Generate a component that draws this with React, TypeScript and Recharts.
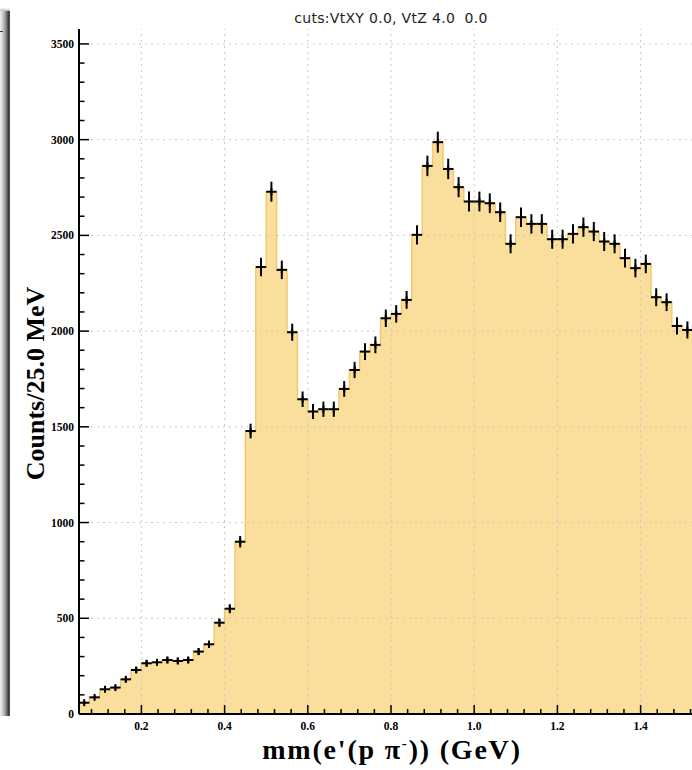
import { ComposedChart, Area, Scatter, ErrorBar, XAxis, YAxis, ReferenceLine } from "recharts";

// histogram binning, 25 MeV bins starting at 0.05 GeV
const BIN_START = 0.05;
const BIN_WIDTH = 0.025;

const counts = [
  59, 87, 129, 138, 181, 230, 265, 270, 282, 277, 282, 326, 364, 477, 550,
  900, 1478, 2335, 2728, 2320, 1994, 1644, 1580, 1592, 1592, 1698, 1797, 1893, 1928, 2067,
  2090, 2163, 2503, 2863, 2987, 2847, 2752, 2677, 2677, 2668, 2621, 2456, 2595, 2560, 2560,
  2480, 2480, 2508, 2543, 2520, 2468, 2456, 2381, 2329, 2351, 2177, 2151, 2027, 2006,
];

const errors = [
  7.7, 9.3, 11.4, 11.7, 13.5, 15.2, 16.3, 16.4, 16.8, 16.6, 16.8, 18.1, 19.1, 21.8, 23.5,
  30, 38.4, 48.3, 52.2, 48.2, 44.7, 40.5, 39.7, 39.9, 39.9, 41.2, 42.4, 43.5, 43.9, 45.5,
  45.7, 46.5, 50, 53.5, 54.7, 53.4, 52.5, 51.7, 51.7, 51.7, 51.2, 49.6, 50.9, 50.6, 50.6,
  49.8, 49.8, 50.1, 50.4, 50.2, 49.7, 49.6, 48.8, 48.3, 48.5, 46.7, 46.4, 45, 44.8,
];

const xMajor = [0.2, 0.4, 0.6, 0.8, 1.0, 1.2, 1.4];
const xMajorLabels = ["0.2", "0.4", "0.6", "0.8", "1.0", "1.2", "1.4"];
const yMajor = [0, 500, 1000, 1500, 2000, 2500, 3000, 3500];
const yMajorLabels = ["0", "500", "1000", "1500", "2000", "2500", "3000", "3500"];

const X_DOMAIN: [number, number] = [0.05, 1.55];
const Y_DOMAIN: [number, number] = [0, 3578];

// minor ticks: 5 divisions per major
const xTicks = Array.from({ length: 37 }, (_, i) => +(0.08 + 0.04 * i).toFixed(2));
const yTicks = Array.from({ length: 36 }, (_, i) => i * 100);

const points = counts.map((c, i) => ({
  x: +(BIN_START + BIN_WIDTH * (i + 0.5)).toFixed(4),
  count: c,
  err: errors[i],
  xerr: BIN_WIDTH / 2,
}));

const steps = [
  ...counts.map((c, i) => ({ x: +(BIN_START + BIN_WIDTH * i).toFixed(4), y: c })),
  { x: +(BIN_START + BIN_WIDTH * counts.length).toFixed(4), y: counts[counts.length - 1] },
];

const SERIF = "'Liberation Serif', 'Times New Roman', serif";
const GRID = { stroke: "#c8c8c8", strokeDasharray: "2 4", strokeWidth: 1 };

const near = (arr: number[], v: number) => arr.findIndex((m) => Math.abs(m - v) < 1e-6);

const XTick = (props: any) => {
  const { x, y, payload } = props;
  const idx = near(xMajor, payload.value);
  const major = idx >= 0;
  return (
    <g>
      <line x1={x} x2={x} y1={y} y2={y - (major ? 9 : 5)} stroke="#000" strokeWidth={1.5} />
      {major && (
        <text x={x} y={y + 16} textAnchor="middle" fontFamily={SERIF} fontWeight="bold" fontSize={11.5} fill="#000">
          {xMajorLabels[idx]}
        </text>
      )}
    </g>
  );
};

const TopTick = (props: any) => {
  const { x, y } = props;
  return <line x1={x} x2={x} y1={y} y2={y + 5} stroke="#000" strokeWidth={1.2} />;
};

const YTick = (props: any) => {
  const { x, y, payload } = props;
  const idx = near(yMajor, payload.value);
  const major = idx >= 0;
  return (
    <g>
      <line x1={x} x2={x + (major ? 10 : 5.5)} y1={y} y2={y} stroke="#000" strokeWidth={1.5} />
      {major && (
        <text x={x - 5} y={y + 4} textAnchor="end" fontFamily={SERIF} fontWeight="bold" fontSize={11.5} fill="#000">
          {yMajorLabels[idx]}
        </text>
      )}
    </g>
  );
};

const Plus = (props: any) => {
  const { cx, cy } = props;
  return <line x1={cx} x2={cx} y1={cy - 3.5} y2={cy + 3.5} stroke="#000" strokeWidth={2} />;
};

export default function App() {
  return (
    <div style={{ position: "absolute", left: 0, top: 0, width: 692, height: 770, overflow: "hidden", background: "#fff" }}>
      {/* neighbouring pad edge on the left */}
      <div
        style={{
          position: "absolute", left: 0, top: 8, width: 10, height: 708,
          background: "linear-gradient(to right, #f2f2f2 0%, #c8c8c8 30%, #8a8a8a 60%, #3a3a3a 85%, #5a5a5a 100%)",
        }}
      />
      <div style={{ position: "absolute", left: 0, top: 8, width: 10, height: 3, background: "linear-gradient(to bottom, #fafafa, #bbb)" }} />
      <div style={{ position: "absolute", left: 0, top: 31, width: 3, height: 1, background: "#333" }} />

      <div style={{ position: "absolute", left: 0, top: 0 }}>
        <ComposedChart width={720} height={770} margin={{ top: 29, left: 19, right: 17, bottom: 26 }}>
          <XAxis
            type="number" dataKey="x" domain={X_DOMAIN} allowDataOverflow ticks={xTicks} interval={0}
            height={30} tickSize={0} tickMargin={0} tickLine={false} tick={<XTick />}
            axisLine={{ stroke: "#000", strokeWidth: 2 }}
          />
          <XAxis
            xAxisId="top" orientation="top" type="number" dataKey="x" domain={X_DOMAIN} allowDataOverflow
            ticks={xMajor} interval={0} height={0} tickSize={0} tickMargin={0} tickLine={false}
            tick={<TopTick />} axisLine={{ stroke: "#000", strokeWidth: 2 }}
          />
          <YAxis
            type="number" domain={Y_DOMAIN} allowDataOverflow ticks={yTicks} interval={0}
            width={60} tickSize={0} tickMargin={0} tickLine={false} tick={<YTick />}
            axisLine={{ stroke: "#000", strokeWidth: 2 }}
          />
          <Area
            data={steps} dataKey="y" type="stepAfter" baseValue={0}
            fill="#F9DE9C" fillOpacity={1} stroke="#F5C86E" strokeWidth={1.5}
            dot={false} activeDot={false} isAnimationActive={false}
          />
          {xMajor.map((v) => (
            <ReferenceLine key={"gx" + v} x={v} {...GRID} />
          ))}
          {yMajor.slice(1).map((v) => (
            <ReferenceLine key={"gy" + v} y={v} {...GRID} />
          ))}
          <Scatter data={points} dataKey="count" shape={<Plus />} isAnimationActive={false}>
            <ErrorBar dataKey="err" direction="y" width={0} stroke="#000" strokeWidth={2} isAnimationActive={false} />
            <ErrorBar dataKey="xerr" direction="x" width={0} stroke="#000" strokeWidth={2} isAnimationActive={false} />
          </Scatter>
        </ComposedChart>
      </div>

      <svg width={692} height={770} style={{ position: "absolute", left: 0, top: 0, pointerEvents: "none" }}>
        <text
          x={391} y={22.5} textAnchor="middle" fontFamily="'DejaVu Sans', sans-serif" fontSize={14}
          letterSpacing={0.3} fill="#222" xmlSpace="preserve" style={{ whiteSpace: "pre" }}
        >
          cuts:VtXY 0.0, VtZ 4.0  0.0
        </text>
        <text
          transform="translate(44, 383.5) rotate(-90)" textAnchor="middle"
          fontFamily={SERIF} fontWeight="bold" fontSize={26} fill="#000"
        >
          Counts/25.0 MeV
        </text>
        <text
          x={392} y={759} textAnchor="middle" fontFamily={SERIF} fontWeight="bold" fontSize={28}
          letterSpacing={1.8} fill="#000"
        >
          mm(e'(p π<tspan dy={-11} fontSize={15}>-</tspan>
          <tspan dy={11}>)) (GeV)</tspan>
        </text>
      </svg>
    </div>
  );
}
